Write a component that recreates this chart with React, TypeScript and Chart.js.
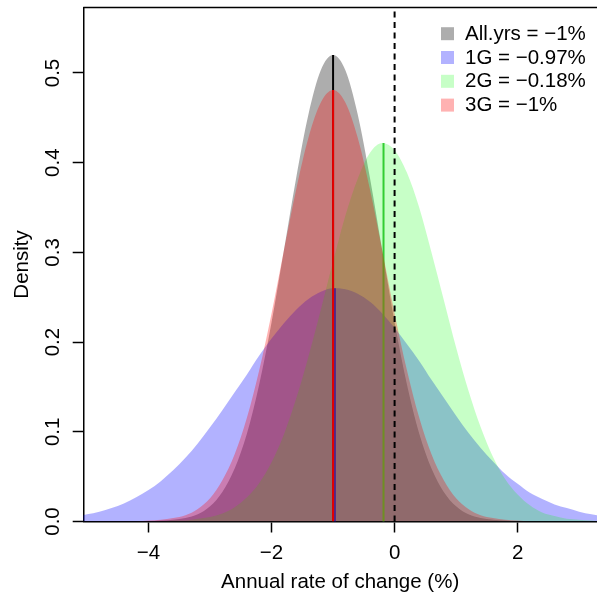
import React, { useEffect, useRef } from 'react';
import { Chart, registerables } from 'chart.js';

Chart.register(...registerables);

// ---- data ----
const X_GRID = [
  -5.2, -5.0, -4.8, -4.6, -4.4, -4.2, -4.0, -3.8, -3.6, -3.4, -3.2, -3.0, -2.8, -2.6, -2.4,
  -2.2, -2.0, -1.8, -1.6, -1.4, -1.2, -1.0, -0.8, -0.6, -0.4, -0.2, 0.0, 0.2, 0.4, 0.6,
  0.8, 1.0, 1.2, 1.4, 1.6, 1.8, 2.0, 2.2, 2.4, 2.6, 2.8, 3.0, 3.2, 3.4,
];
const ALL_YRS = [
  0, 0, 0, 0, 0, 0, 0, 0.001, 0.002, 0.004, 0.008, 0.017, 0.033, 0.059, 0.098,
  0.153, 0.222, 0.302, 0.383, 0.454, 0.503, 0.52, 0.503, 0.454, 0.383, 0.302, 0.222, 0.153, 0.098, 0.059,
  0.033, 0.017, 0.008, 0.004, 0.002, 0.001, 0, 0, 0, 0, 0, 0, 0, 0,
];
const G1 = [
  0.005, 0.008, 0.011, 0.015, 0.02, 0.027, 0.035, 0.045, 0.057, 0.071, 0.087, 0.105, 0.124, 0.144, 0.164,
  0.185, 0.204, 0.221, 0.236, 0.248, 0.256, 0.26, 0.259, 0.254, 0.245, 0.232, 0.216, 0.198, 0.179, 0.158,
  0.138, 0.118, 0.099, 0.082, 0.067, 0.053, 0.042, 0.032, 0.025, 0.019, 0.015, 0.011, 0.008, 0.006,
];
const G2 = [
  0, 0, 0, 0, 0, 0, 0, 0, 0.001, 0.001, 0.003, 0.005, 0.009, 0.016, 0.027,
  0.043, 0.066, 0.097, 0.137, 0.184, 0.236, 0.29, 0.341, 0.382, 0.411, 0.422, 0.414, 0.389, 0.35, 0.3,
  0.247, 0.194, 0.146, 0.105, 0.072, 0.047, 0.03, 0.018, 0.01, 0.006, 0.003, 0.002, 0.001, 0,
];
const G3 = [
  0, 0, 0, 0, 0, 0, 0.001, 0.002, 0.004, 0.007, 0.014, 0.026, 0.046, 0.075, 0.116,
  0.169, 0.232, 0.302, 0.37, 0.428, 0.467, 0.481, 0.467, 0.428, 0.37, 0.302, 0.232, 0.169, 0.116, 0.075,
  0.046, 0.026, 0.014, 0.007, 0.004, 0.002, 0.001, 0, 0, 0, 0, 0, 0, 0,
];
const SERIES_LABELS = ['All.yrs = \u22121%', '1G = \u22120.97%', '2G = \u22120.18%', '3G = \u22121%'];
const MEANS = [-1, -0.97, -0.18, -1];
const PEAKS = [0.52, 0.26, 0.422, 0.481];
const REF_X = 0;
const X_TICKS = [-4, -2, 0, 2];
const Y_TICKS = [0, 0.1, 0.2, 0.3, 0.4, 0.5];
const X_MIN = -5.06;
const X_MAX = 3.29;
const Y_MIN = 0;
const Y_MAX = 0.573;
const X_TITLE = 'Annual rate of change (%)';
const Y_TITLE = 'Density';

// ---- styles ----
const FONT = '"Liberation Sans", Arial, Helvetica, sans-serif';
const FONT_SIZE = 20.5;
const FILLS = ['rgba(0,0,0,0.32)', 'rgba(0,0,255,0.3)', 'rgba(0,255,0,0.22)', 'rgba(255,0,0,0.3)'];
const LINE_COLORS = ['#000000', '#0000ff', 'rgb(50,205,50)', 'rgb(230,0,0)'];

const fmtX = (v: number) => (v < 0 ? '\u2212' + Math.abs(v) : String(v));

const framePlugin = {
  id: 'topFrame',
  afterDraw(chart: any) {
    const { ctx, chartArea } = chart;
    ctx.save();
    ctx.strokeStyle = '#000';
    ctx.lineWidth = 1.5;
    ctx.beginPath();
    ctx.moveTo(chartArea.left, chartArea.top);
    ctx.lineTo(chartArea.right + 2, chartArea.top);
    ctx.stroke();
    ctx.restore();
  },
};

const legendPlugin = {
  id: 'boxLegend',
  afterDraw(chart: any) {
    const { ctx, chartArea } = chart;
    ctx.save();
    ctx.font = `${FONT_SIZE}px ${FONT}`;
    ctx.textBaseline = 'middle';
    ctx.textAlign = 'left';
    const bx = chartArea.right - 156;
    SERIES_LABELS.forEach((label, i) => {
      const cy = chartArea.top + 26.2 + i * 23.8;
      ctx.fillStyle = '#fff';
      ctx.fillRect(bx, cy - 6.5, 13, 13);
      ctx.fillStyle = FILLS[i];
      ctx.fillRect(bx, cy - 6.5, 13, 13);
      ctx.fillStyle = '#000';
      ctx.fillText(label, bx + 24, cy + 0.5);
    });
    ctx.restore();
  },
};

export default function App() {
  const ref = useRef<HTMLCanvasElement>(null);

  useEffect(() => {
    const canvas = ref.current;
    if (!canvas) return;
    const pts = (ys: number[]) => X_GRID.map((x, i) => ({ x, y: ys[i] }));
    const seg = (i: number) => [
      { x: MEANS[i], y: 0 },
      { x: MEANS[i], y: PEAKS[i] },
    ];
    const series = [ALL_YRS, G1, G2, G3];
    const datasets: any[] = [];
    series.forEach((ys, i) => {
      datasets.push({
        label: SERIES_LABELS[i],
        data: pts(ys),
        fill: 'origin',
        backgroundColor: FILLS[i],
        borderColor: 'rgba(0,0,0,0)',
        borderWidth: 0,
        pointRadius: 0,
        cubicInterpolationMode: 'monotone',
        order: 20 - 2 * i,
      });
      datasets.push({
        label: SERIES_LABELS[i] + ' mean',
        data: seg(i),
        fill: false,
        borderColor: LINE_COLORS[i],
        borderWidth: 2,
        pointRadius: 0,
        order: 19 - 2 * i,
      });
    });
    datasets.push({
      label: 'zero',
      data: [
        { x: REF_X, y: Y_MIN },
        { x: REF_X, y: Y_MAX },
      ],
      fill: false,
      borderColor: '#000',
      borderWidth: 2,
      borderDash: [6, 4.5],
      pointRadius: 0,
      order: 0,
    });

    const tickFont = { family: FONT, size: FONT_SIZE };
    const chart = new Chart(canvas, {
      type: 'line',
      data: { datasets },
      options: {
        animation: false,
        responsive: false,
        maintainAspectRatio: false,
        layout: { padding: { top: 7.5, left: 0, right: 0, bottom: 0 } },
        plugins: { legend: { display: false }, tooltip: { enabled: false } },
        scales: {
          x: {
            type: 'linear',
            min: X_MIN,
            max: X_MAX,
            afterBuildTicks: (s: any) => {
              s.ticks = X_TICKS.map((v) => ({ value: v }));
            },
            afterFit: (s: any) => {
              s.height = 70.5;
              s.paddingLeft = 0;
              s.paddingRight = 0;
              s.paddingTop = 0;
              s.paddingBottom = 0;
            },
            grid: {
              display: true,
              drawOnChartArea: false,
              drawTicks: true,
              tickLength: 11,
              tickWidth: 1.5,
              tickColor: '#000',
              color: '#000',
            },
            border: { display: true, color: '#000', width: 1.5 },
            ticks: {
              autoSkip: false,
              minRotation: 0,
              maxRotation: 0,
              padding: 9,
              color: '#000',
              font: tickFont,
              callback: (v: any) => fmtX(Number(v)),
            },
            title: {
              display: true,
              text: X_TITLE,
              color: '#000',
              font: tickFont,
              padding: { top: 0, bottom: -2.8 },
            },
          },
          y: {
            type: 'linear',
            min: Y_MIN,
            max: Y_MAX,
            afterBuildTicks: (s: any) => {
              s.ticks = Y_TICKS.map((v) => ({ value: v }));
            },
            afterFit: (s: any) => {
              s.width = 83.3;
              s.paddingLeft = 0;
              s.paddingRight = 0;
              s.paddingTop = 0;
              s.paddingBottom = 0;
            },
            grid: {
              display: true,
              drawOnChartArea: false,
              drawTicks: true,
              tickLength: 10.6,
              tickWidth: 1.5,
              tickColor: '#000',
              color: '#000',
            },
            border: { display: true, color: '#000', width: 1.5 },
            ticks: {
              autoSkip: false,
              minRotation: 90,
              maxRotation: 90,
              crossAlign: 'center',
              padding: 5,
              color: '#000',
              font: tickFont,
              callback: (v: any) => Number(v).toFixed(1),
            },
            title: {
              display: true,
              text: Y_TITLE,
              color: '#000',
              font: tickFont,
              padding: { top: 10.5, bottom: 0 },
            },
          },
        },
      } as any,
      plugins: [framePlugin, legendPlugin],
    });
    return () => chart.destroy();
  }, []);

  return (
    <div style={{ position: 'absolute', left: 0, top: 0, width: 597, height: 592, background: '#fff' }}>
      <canvas ref={ref} width={597} height={592} style={{ display: 'block', width: 597, height: 592 }} />
    </div>
  );
}
